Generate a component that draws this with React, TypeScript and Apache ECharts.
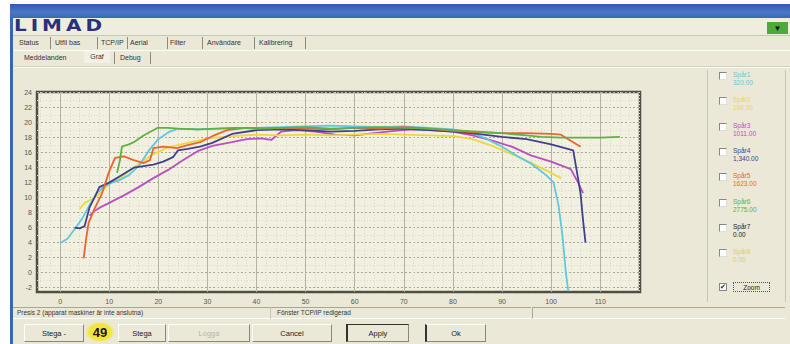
import React, { useEffect, useRef } from "react";
import * as echarts from "echarts";

// ---- data ----
const xTicks = [0, 10, 20, 30, 40, 50, 60, 70, 80, 90, 100, 110];
const yTicks = [-2, 0, 2, 4, 6, 8, 10, 12, 14, 16, 18, 20, 22, 24];
const xMinor = [-4, -2, 2, 4, 6, 8, 12, 14, 16, 18, 22, 24, 26, 28, 32, 34, 36, 38, 42, 44, 46, 48, 52, 54, 56, 58, 62, 64, 66, 68, 72, 74, 76, 78, 82, 84, 86, 88, 92, 94, 96, 98, 102, 104, 106, 108, 112, 114, 116, 118];
const yMinor = [-1, 1, 3, 5, 7, 9, 11, 13, 15, 17, 19, 21, 23];

const seriesNames = ["Spår1", "Spår2", "Spår3", "Spår4", "Spår5", "Spår6", "Spår7", "Spår8"];
const seriesValues = ["320.00", "190.00", "1011.00", "1,340.00", "1623.00", "2775.00", "0.00", "0.00"];
const seriesColors = ["#5fc9de", "#ecd940", "#b94fc0", "#41408f", "#ea6430", "#5fb045", "#222222", "#d8d450"];

const spar1 = [[0, 3.9], [1.5, 4.5], [3, 5.8], [4.5, 7.2], [6, 9], [7.5, 10.6], [9, 11.5], [10.5, 12], [12, 12.3], [14, 13], [16, 14.2], [18, 16.2], [20, 17.8], [22, 18.7], [24, 19.2], [28, 19.1], [32, 19.2], [36, 19.3], [40, 19.3], [45, 19.4], [50, 19.5], [55, 19.6], [60, 19.5], [65, 19.4], [70, 19.5], [75, 19.3], [80, 19.1], [84, 18.6], [87, 17.8], [90, 16.8], [93, 15.6], [96, 14.5], [99, 13], [100.5, 12], [101.5, 9], [102.3, 5], [103, 0], [103.5, -2.5]];
const spar2 = [[4, 8.5], [5, 9.3], [6.5, 9.8], [8, 10.5], [10, 11.8], [13, 13], [16, 14.5], [19, 15.8], [22, 16.7], [26, 17.3], [30, 17.9], [35, 18.2], [40, 18.4], [45, 18.3], [50, 18.4], [55, 18.3], [60, 18.4], [65, 18.5], [70, 18.4], [75, 18.3], [80, 18.2], [84, 17.8], [88, 16.9], [92, 15.8], [96, 14.6], [100, 13.3], [102, 12.6]];
const spar3 = [[6, 7.6], [7, 8.2], [8.5, 8.8], [10, 9.3], [13, 10.3], [16, 11.4], [19, 12.6], [22, 13.7], [25, 15], [28, 16.2], [31, 16.9], [35, 17.4], [38, 17.8], [41, 17.9], [43, 17.7], [45, 18.8], [48, 19], [52, 18.8], [56, 18.4], [60, 18.3], [64, 18.6], [68, 18.9], [72, 19.1], [76, 19], [80, 18.8], [84, 18.3], [88, 17.6], [92, 16.8], [96, 15.6], [100, 14.8], [104, 13.8], [105.5, 12], [106.5, 10.6]];
const spar4 = [[3, 6], [4, 5.9], [5, 6.2], [6, 8.7], [7, 10], [8, 11.4], [10, 12], [12, 12.8], [15, 14], [19, 14.4], [21, 14.8], [23, 15.4], [24, 16.3], [26, 16.5], [28.5, 16.8], [31, 17.3], [35, 18.5], [40, 19], [45, 19.1], [50, 19], [55, 18.8], [60, 18.9], [65, 19.1], [70, 19.2], [75, 19], [80, 18.8], [85, 18.5], [90, 18.1], [95, 17.8], [100, 17.1], [104.5, 16.3], [105.5, 12.5], [106, 10.5], [106.5, 7], [107, 4]];
const spar5 = [[4.8, 1.9], [5.3, 4.5], [5.8, 6.6], [7, 8.5], [8.5, 10.5], [10, 13.5], [11.2, 15.3], [13, 15.5], [15, 15], [17, 14.6], [18.3, 15], [19, 16.6], [21, 16.8], [23.8, 16.6], [26, 17], [28.5, 17.4], [31, 18.2], [34, 19], [38, 19.3], [42, 19.2], [46, 19.3], [50, 19.2], [55, 19.1], [60, 19.3], [65, 19.2], [70, 19.4], [75, 19.2], [80, 18.9], [85, 18.7], [90, 18.6], [95, 18.6], [100, 18.5], [102, 18.4], [104, 17.6], [106, 16.8]];
const spar6 = [[11.6, 13.3], [12.2, 15], [12.6, 16.8], [14, 17.1], [15, 17.4], [17, 18.3], [19.8, 19.3], [22, 19.3], [24, 19.2], [28, 19.1], [32, 19.2], [36, 19.3], [40, 19.2], [45, 19.3], [50, 19.4], [55, 19.2], [60, 19.3], [65, 19.4], [70, 19.3], [75, 19.2], [80, 19], [85, 18.8], [90, 18.6], [95, 18.3], [98, 18.1], [102, 18], [106, 18], [110, 18], [114, 18.1]];
const seriesData = [spar1, spar2, spar3, spar4, spar5, spar6];
const drawOrder = [2, 1, 0, 3, 4, 5];

const tabs = [
  { t: "Status", x: 19 }, { t: "Utfil bas", x: 55 }, { t: "TCP/IP", x: 101 }, { t: "Aerial", x: 130 },
  { t: "Filter", x: 170 }, { t: "Användare", x: 207 }, { t: "Kalibrering", x: 259 },
];
const tabSeps = [50, 97, 127, 167, 202, 254, 305];

const font = "'Liberation Sans', Arial, sans-serif";

const abs = (l: number, t: number, w: number, h: number, extra: any = {}): any => ({
  position: "absolute", left: l, top: t, width: w, height: h, ...extra,
});

function Chart() {
  const ref = useRef<HTMLDivElement>(null);
  useEffect(() => {
    if (!ref.current) return;
    const chart = echarts.init(ref.current, null, { renderer: "svg" });
    const baseX = { type: "value", min: -4.7, max: 118.1, gridIndex: 0 };
    const baseY = { type: "value", min: -2.6, max: 24.1, gridIndex: 0 };
    chart.setOption({
      animation: false,
      backgroundColor: "transparent",
      grid: {
        left: 37, top: 92, width: 603, height: 200, show: true,
        backgroundColor: "#f2f0e0", borderColor: "#4f4d44", borderWidth: 2.5,
      },
      xAxis: [
        {
          ...baseX,
          axisLine: { show: false },
          axisTick: { show: false, customValues: xTicks },
          axisLabel: { customValues: xTicks, fontSize: 7, color: "#555", margin: 6, fontFamily: font },
          splitLine: { show: true, lineStyle: { color: "#b5b2a0", width: 1 } },
        },
        {
          ...baseX,
          axisLine: { show: false },
          axisTick: { show: false, customValues: xMinor },
          axisLabel: { show: false, customValues: xMinor },
          splitLine: { show: true, lineStyle: { color: "#dcd9c6", width: 1, type: [1, 2] } },
        },
      ],
      yAxis: [
        {
          ...baseY,
          axisLine: { show: false },
          axisTick: { show: false, customValues: yTicks },
          axisLabel: { customValues: yTicks, fontSize: 7, color: "#555", margin: 5, fontFamily: font },
          splitLine: { show: true, lineStyle: { color: "#a8a696", width: 1, type: [2, 2] } },
        },
        {
          ...baseY,
          axisLine: { show: false },
          axisTick: { show: false, customValues: yMinor },
          axisLabel: { show: false, customValues: yMinor },
          splitLine: { show: true, lineStyle: { color: "#dcd9c6", width: 1, type: [1, 2] } },
        },
      ],
      series: drawOrder.map((i) => ({
        type: "line",
        name: seriesNames[i],
        data: seriesData[i],
        xAxisIndex: 0,
        yAxisIndex: 0,
        showSymbol: false,
        symbol: "none",
        lineStyle: { color: seriesColors[i], width: 1.8 },
        itemStyle: { color: seriesColors[i] },
      })),
    });
    return () => chart.dispose();
  }, []);
  return <div ref={ref} style={abs(0, 0, 790, 344)} />;
}

const btn = (l: number, w: number, extra: any = {}): any =>
  abs(l, 324, w, 18, {
    border: "1px solid #8a887a", borderTopColor: "#fff", borderLeftColor: "#fff",
    boxSizing: "border-box", fontSize: 7.5, display: "flex", alignItems: "center",
    justifyContent: "center", color: "#222", ...extra,
  });

export default function App() {
  useEffect(() => {
    document.body.style.margin = "0";
  }, []);
  return (
    <div style={{ position: "relative", width: 790, height: 344, background: "#fff", overflow: "hidden", fontFamily: font }}>
      <div style={abs(10, 4, 780, 340, { background: "#ebe8d7" })} />
      <div style={abs(10, 4, 3, 340, { background: "#3b64b4" })} />
      <div style={abs(10, 4, 780, 14, { background: "linear-gradient(#2f5cb3, #4b77c6 60%, #3a66b9)" })} />
      {/* header */}
      <div style={abs(13, 18, 777, 17, { background: "#efede0", borderBottom: "1px solid #c9c6b2" })} />
      <div style={abs(14, 18, 100, 16, { fontSize: 15, fontWeight: 900, color: "#2b2f7c", letterSpacing: 3, transform: "scaleX(1.33)", transformOrigin: "left", fontFamily: "'DejaVu Sans', sans-serif", lineHeight: "16px" })}>LIMAD</div>
      <div style={abs(767, 22, 21, 12, { background: "#4ea93c", fontSize: 8, display: "flex", alignItems: "center", justifyContent: "center", color: "#111" })}>▼</div>
      {/* tabs */}
      {tabs.map((t) => (
        <div key={t.t} style={abs(t.x, 38, 60, 10, { fontSize: 7, color: "#333", lineHeight: "10px", whiteSpace: "nowrap" })}>{t.t}</div>
      ))}
      {tabSeps.map((x) => (
        <div key={x} style={abs(x, 37, 1, 12, { background: "#8c8a7c" })} />
      ))}
      <div style={abs(14, 50, 776, 1, { background: "#fff" })} />
      <div style={abs(24, 53, 60, 10, { fontSize: 7, color: "#333", lineHeight: "10px" })}>Meddelanden</div>
      <div style={abs(84, 51, 26, 12, { fontSize: 7, color: "#333", lineHeight: "12px", textAlign: "center", background: "#f3f1e5" })}>Graf</div>
      <div style={abs(114, 52, 1, 12, { background: "#8c8a7c" })} />
      <div style={abs(120, 53, 30, 10, { fontSize: 7, color: "#333", lineHeight: "10px" })}>Debug</div>
      <div style={abs(150, 52, 1, 12, { background: "#8c8a7c" })} />
      <div style={abs(14, 66, 776, 1, { background: "#d3d0bc" })} />
      <div style={abs(14, 67, 776, 1, { background: "#fff" })} />
      {/* legend panel */}
      <div style={abs(707, 70, 79, 232, { borderLeft: "1px solid #c9c6b2", borderRight: "1px solid #c9c6b2", boxSizing: "border-box" })} />
      {seriesNames.map((n, i) => (
        <React.Fragment key={n}>
          <div style={abs(719, 72 + i * 25.3, 8, 8, { background: "#fff", border: "1px solid #888", borderRightColor: "#ddd", borderBottomColor: "#ddd", boxSizing: "border-box" })} />
          <div style={abs(733, 71 + i * 25.3, 50, 20, { fontSize: 6.5, color: seriesColors[i], lineHeight: "8px", whiteSpace: "nowrap" })}>
            {n}<br />{seriesValues[i]}
          </div>
        </React.Fragment>
      ))}
      <div style={abs(719, 283, 8, 8, { background: "#fff", border: "1px solid #888", boxSizing: "border-box", fontSize: 7, lineHeight: "6px", textAlign: "center", color: "#222" })}>✔</div>
      <div style={abs(733, 282, 37, 10, { border: "1px dotted #555", fontSize: 6.5, lineHeight: "9px", textAlign: "center", boxSizing: "border-box", color: "#222" })}>Zoom</div>
      {/* status bar */}
      <div style={abs(13, 307, 518, 12, { borderTop: "1px solid #a9a794", borderBottom: "1px solid #fff", boxSizing: "border-box" })} />
      <div style={abs(17, 308, 200, 10, { fontSize: 6.5, lineHeight: "10px", color: "#333", whiteSpace: "nowrap" })}>Presis 2 (apparat maskiner är inte anslutna)</div>
      <div style={abs(270, 307, 1, 12, { background: "#c9c6b2" })} />
      <div style={abs(277, 308, 200, 10, { fontSize: 6.5, lineHeight: "10px", color: "#333", whiteSpace: "nowrap" })}>Fönster TCP/IP redigerad</div>
      <div style={abs(532, 307, 253, 12, { borderTop: "1px solid #a9a794", borderLeft: "1px solid #a9a794", borderBottom: "1px solid #fff", boxSizing: "border-box" })} />
      {/* buttons */}
      <div style={btn(24, 60)}>Stega -</div>
      <div style={abs(86, 322, 28, 20, { background: "radial-gradient(ellipse at center, #f3e63a 55%, rgba(235,232,215,0) 75%)", fontSize: 13, fontWeight: "bold", color: "#1a1a1a", display: "flex", alignItems: "center", justifyContent: "center" })}>49</div>
      <div style={btn(118, 48)}>Stega</div>
      <div style={btn(168, 82, { color: "#b8b6a8" })}>Logga</div>
      <div style={btn(252, 80)}>Cancel</div>
      <div style={btn(346, 63, { borderLeft: "2px solid #333", borderTop: "1px solid #333" })}>Apply</div>
      <div style={btn(425, 61, { borderLeft: "2px solid #333" })}>Ok</div>
      <Chart />
    </div>
  );
}
